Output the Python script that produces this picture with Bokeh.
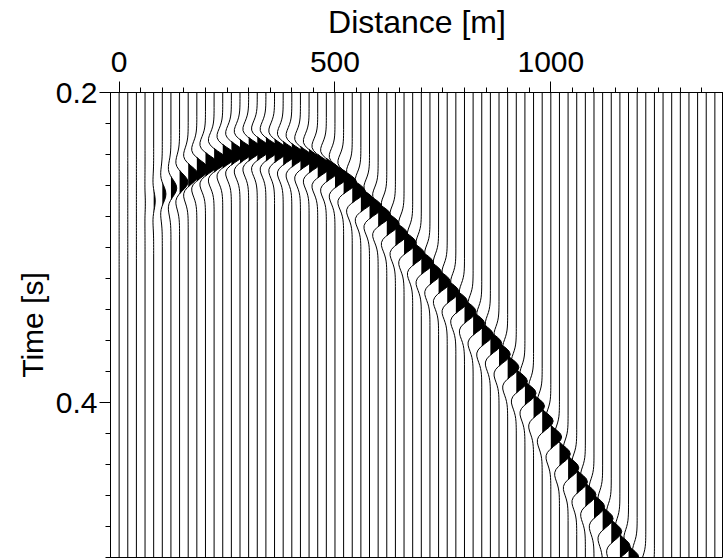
from bokeh.plotting import figure
from bokeh.models import Range1d, SingleIntervalTicker
from bokeh.embed import file_html
from bokeh.resources import INLINE

# ---- data ----
offsets_m = [0, 20, 40, 60, 80, 100, 120, 140, 160, 180,
             200, 220, 240, 260, 280, 300, 320, 340, 360, 380,
             400, 420, 440, 460, 480, 500, 520, 540, 560, 580,
             600, 620, 640, 660, 680, 700, 720, 740, 760, 780,
             800, 820, 840, 860, 880, 900, 920, 940, 960, 980,
             1000, 1020, 1040, 1060, 1080, 1100, 1120, 1140, 1160, 1180,
             1200, 1220, 1240, 1260, 1280, 1300, 1320, 1340, 1360, 1380]

arrival_s = [0.2790, 0.2760, 0.2730, 0.2715, 0.2700, 0.2655, 0.2617, 0.2578, 0.2533, 0.2495,
             0.2463, 0.2437, 0.2411, 0.2392, 0.2379, 0.2366, 0.2363, 0.2366, 0.2376, 0.2392,
             0.2405, 0.2424, 0.2443, 0.2475, 0.2501, 0.2540, 0.2578, 0.2636, 0.2694, 0.2739,
             0.2790, 0.2848, 0.2912, 0.2970, 0.3041, 0.3098, 0.3163, 0.3221, 0.3285, 0.3349,
             0.3413, 0.3490, 0.3561, 0.3619, 0.3689, 0.3773, 0.3863, 0.3940, 0.4024, 0.4120,
             0.4223, 0.4332, 0.4422, 0.4512, 0.4595, 0.4672, 0.4749, 0.4833, 0.4929, 0.5000,
             0.5083, 0.5170, 0.5260, 0.5350, 0.5440, 0.5530, 0.5620, 0.5710, 0.5800, 0.5890]

amplitude = [0.00, 0.00, 0.00, 0.02, 0.12, 0.28, 0.45, 0.65, 0.80, 0.90,
             0.97, 1.00, 1.00, 1.00, 1.00, 1.00, 1.00, 1.00, 1.00, 1.00,
             1.00, 1.00, 1.00, 1.00, 1.00, 1.00, 1.00, 0.99, 0.98, 0.97,
             0.96, 0.95, 0.94, 0.93, 0.92, 0.92, 0.91, 0.91, 0.90, 0.90,
             0.89, 0.89, 0.88, 0.88, 0.87, 0.87, 0.86, 0.86, 0.85, 0.85,
             0.84, 0.84, 0.83, 0.83, 0.82, 0.82, 0.81, 0.81, 0.80, 0.80,
             0.80, 0.80, 0.80, 0.80, 0.80, 0.80, 0.80, 0.80, 0.80, 0.80]

wavelet_ms = [-34, -32, -30, -28, -26, -24, -22, -20, -18, -16, -14, -12, -10, -8, -6, -4, -2, 0,
              2, 4, 6, 8, 10, 12, 14, 16, 18, 20, 22, 24, 26, 28, 30, 32, 34]
wavelet_amp = [-0.001, -0.002, -0.005, -0.012, -0.027, -0.055, -0.103, -0.175, -0.268, -0.365,
               -0.435, -0.434, -0.319, -0.078, 0.262, 0.621, 0.897, 1.0,
               0.897, 0.621, 0.262, -0.078, -0.319, -0.434, -0.435, -0.365, -0.268, -0.175,
               -0.103, -0.055, -0.027, -0.012, -0.005, -0.002, -0.001]

x_ticks_interval = 500
y_ticks_interval = 0.2
GAIN_M = 30.0
T_MIN, T_MAX = 0.2, 0.5

# ---- build wiggles ----
line_xs, line_ys, fill_xs, fill_ys = [], [], [], []
for off, t0, a in zip(offsets_m, arrival_s, amplitude):
    ts = [t0 + ms / 1000.0 for ms in wavelet_ms]
    ds = [GAIN_M * a * w for w in wavelet_amp]
    lx = [off] + [off + d for d in ds] + [off]
    ly = [T_MIN - 0.05] + ts + [T_MAX + 0.05]
    line_xs.append(lx)
    line_ys.append(ly)
    if a > 0:
        fx = [off] + [off + max(d, 0.0) for d in ds] + [off]
        fy = [ts[0]] + ts + [ts[-1]]
        fill_xs.append(fx)
        fill_ys.append(fy)

p = figure(width=723, height=558, x_range=Range1d(-20, 1400), y_range=Range1d(T_MAX, T_MIN),
           output_backend="svg", toolbar_location=None, x_axis_location="above",
           min_border_left=110, min_border_top=90, min_border_right=0, min_border_bottom=1)

p.patches(fill_xs, fill_ys, fill_color="black", line_color=None)
p.multi_line(line_xs, line_ys, line_color="black", line_width=1)

p.xgrid.visible = False
p.ygrid.visible = False
p.outline_line_color = "black"
p.outline_line_width = 1
p.background_fill_color = "white"
p.border_fill_color = "white"

p.xaxis.ticker = SingleIntervalTicker(interval=x_ticks_interval, num_minor_ticks=10)
p.yaxis.ticker = SingleIntervalTicker(interval=y_ticks_interval, num_minor_ticks=10)
p.xaxis.axis_label = "Distance [m]"
p.yaxis.axis_label = "Time [s]"

for ax in (p.xaxis[0], p.yaxis[0]):
    ax.major_tick_out = 11
    ax.major_tick_in = 0
    ax.minor_tick_out = 5
    ax.minor_tick_in = 0
    ax.axis_line_color = "black"
    ax.major_tick_line_color = "black"
    ax.minor_tick_line_color = "black"
    ax.major_label_text_font = "Liberation Sans"
    ax.major_label_text_font_size = "30px"
    ax.major_label_text_color = "black"
    ax.axis_label_text_font = "Liberation Sans"
    ax.axis_label_text_font_size = "30px"
    ax.axis_label_text_font_style = "normal"
    ax.axis_label_text_color = "black"
    ax.major_label_standoff = 2
    ax.axis_label_standoff = 4

p.xaxis[0].major_label_standoff = 10
p.xaxis[0].axis_label_standoff = 9
p.xaxis[0].axis_label_text_font_size = "32px"

open("out.html", "w").write(file_html(p, INLINE))
